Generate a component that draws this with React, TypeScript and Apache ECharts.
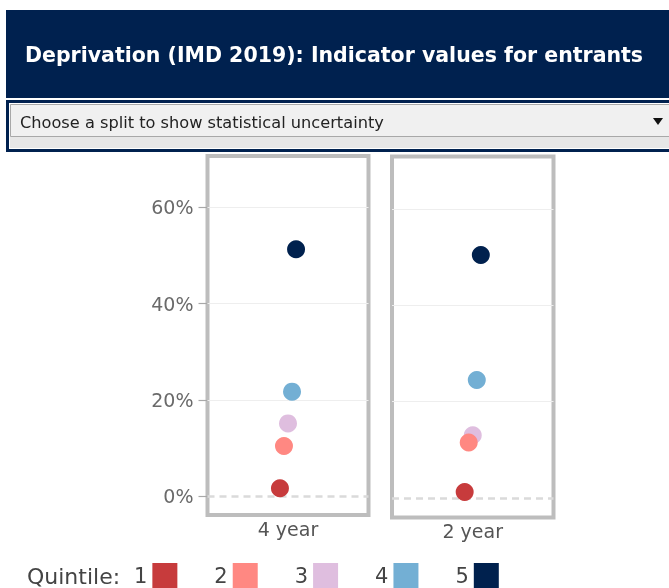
import React, { useEffect, useRef } from "react";
import * as echarts from "echarts";

const CATEGORIES = ["4 year", "2 year"];
const QUINTILES = ["1", "2", "3", "4", "5"];
const FOUR_YEAR = [1.6, 10.4, 15.1, 21.7, 51.3];
const TWO_YEAR = [1.2, 11.5, 13.0, 24.5, 50.5];
const Y_TICKS = [0, 20, 40, 60];
const TITLE = "Deprivation (IMD 2019): Indicator values for entrants";
const DROPDOWN = "Choose a split to show statistical uncertainty";
const LEGEND_TITLE = "Quintile:";

const COLORS = ["#c73b3c", "#ff8882", "#dfbedf", "#73afd4", "#00214e"];
const NAVY = "#00214f";
const FONT = '"DejaVu Sans", Verdana, sans-serif';
const JITTER = 0.05;

export default function App() {
  const ref = useRef<HTMLDivElement>(null);
  useEffect(() => {
    if (!ref.current) return;
    const chart = echarts.init(ref.current, null, { renderer: "svg" });
    const VALUES = [FOUR_YEAR, TWO_YEAR];
    const grids = [
      { left: 207.5, top: 156, width: 161, height: 359 },
      { left: 392, top: 156.5, width: 161.5, height: 361 },
    ];
    const yRanges = [
      [-3.95, 70.7],
      [-4.1, 71.0],
    ];
    const series: any[] = [];
    CATEGORIES.forEach((_, g) => {
      series.push({
        type: "scatter",
        name: "grid-lines-" + g,
        xAxisIndex: g,
        yAxisIndex: g,
        data: [],
        silent: true,
        z: 1,
        markLine: {
          symbol: "none",
          silent: true,
          z: 1,
          label: { show: false },
          emphasis: { disabled: true },
          data: [
            ...Y_TICKS.filter((v) => v !== 0).map((v) => ({
              yAxis: v,
              lineStyle: { color: "#eeeeee", width: 1, type: "solid" },
            })),
            {
              yAxis: 0,
              lineStyle: { color: "#dadada", width: 2.5, type: [7, 5] },
            },
          ],
        },
      });
    });
    QUINTILES.forEach((q, i) => {
      VALUES.forEach((vals, g) => {
        series.push({
          type: "scatter",
          name: q,
          xAxisIndex: g,
          yAxisIndex: g,
          data: [[(i - 2) * JITTER, vals[i]]],
          symbolSize: 18,
          itemStyle: { color: COLORS[i], opacity: 1 },
          emphasis: { disabled: true },
          z: 10 - i,
        });
      });
    });

    chart.setOption({
      animation: false,
      textStyle: { fontFamily: FONT },
      grid: grids.map((g) => ({
        ...g,
        show: true,
        borderColor: "#bdbdbd",
        borderWidth: 4,
        backgroundColor: "#ffffff",
        containLabel: false,
      })),
      xAxis: CATEGORIES.map((c, g) => ({
        type: "value",
        gridIndex: g,
        min: -1,
        max: 1,
        name: c,
        nameLocation: "middle",
        nameGap: 4,
        nameTextStyle: {
          fontSize: 19,
          color: "#555555",
          fontFamily: FONT,
          verticalAlign: "top",
        },
        axisLine: { show: false, onZero: false },
        axisTick: { show: false },
        axisLabel: { show: false },
        splitLine: { show: false },
      })),
      yAxis: CATEGORIES.map((_, g) => ({
        type: "value",
        gridIndex: g,
        position: "left",
        min: yRanges[g][0],
        max: yRanges[g][1],
        show: g === 0,
        axisLine: { show: false, onZero: false },
        axisTick: {
          show: g === 0,
          inside: false,
          length: 9,
          customValues: Y_TICKS,
          lineStyle: { color: "#a8a8a8", width: 1.2 },
        },
        axisLabel: {
          show: g === 0,
          customValues: Y_TICKS,
          margin: 14,
          fontSize: 19,
          color: "#6a6a6a",
          fontFamily: FONT,
          formatter: (v: number) => `${Math.round(v)}%`,
        },
        splitLine: { show: false },
      })),
      legend: {
        data: QUINTILES,
        left: 134,
        top: 563,
        padding: 0,
        align: "right",
        icon: "rect",
        itemWidth: 25,
        itemHeight: 25,
        itemGap: 37,
        selectedMode: false,
        textStyle: { fontSize: 21, color: "#444444", fontFamily: FONT },
      },
      graphic: [
        {
          type: "rect",
          shape: { x: 6, y: 10, width: 670, height: 88 },
          style: { fill: NAVY },
          silent: true,
        },
        {
          type: "text",
          style: {
            text: TITLE,
            x: 25,
            y: 55,
            fill: "#ffffff",
            fontSize: 20.5,
            fontWeight: "bold",
            fontFamily: FONT,
            verticalAlign: "middle",
          },
          silent: true,
        },
        {
          type: "rect",
          shape: { x: 7.5, y: 101.5, width: 670, height: 49 },
          style: { fill: "#ffffff", stroke: NAVY, lineWidth: 3 },
          silent: true,
        },
        {
          type: "rect",
          shape: { x: 10, y: 104, width: 670, height: 44 },
          style: { fill: "#e6e6e6" },
          silent: true,
        },
        {
          type: "rect",
          shape: { x: 10.5, y: 104.5, width: 670, height: 32 },
          style: { fill: "#f0f0f0", stroke: "#a8a8a8", lineWidth: 1 },
          silent: true,
        },
        {
          type: "text",
          style: {
            text: DROPDOWN,
            x: 20,
            y: 122,
            fill: "#222222",
            fontSize: 16.2,
            fontFamily: FONT,
            verticalAlign: "middle",
          },
          silent: true,
        },
        {
          type: "polygon",
          shape: {
            points: [
              [653, 118],
              [663, 118],
              [658, 125],
            ],
          },
          style: { fill: "#111111" },
          silent: true,
        },
        {
          type: "text",
          style: {
            text: LEGEND_TITLE,
            x: 27,
            y: 576,
            fill: "#444444",
            fontSize: 22,
            fontFamily: FONT,
            verticalAlign: "middle",
          },
          silent: true,
        },
      ],
      series,
    });
    return () => chart.dispose();
  }, []);
  return (
    <div
      ref={ref}
      style={{ position: "fixed", left: 0, top: 0, width: 669, height: 588 }}
    />
  );
}
